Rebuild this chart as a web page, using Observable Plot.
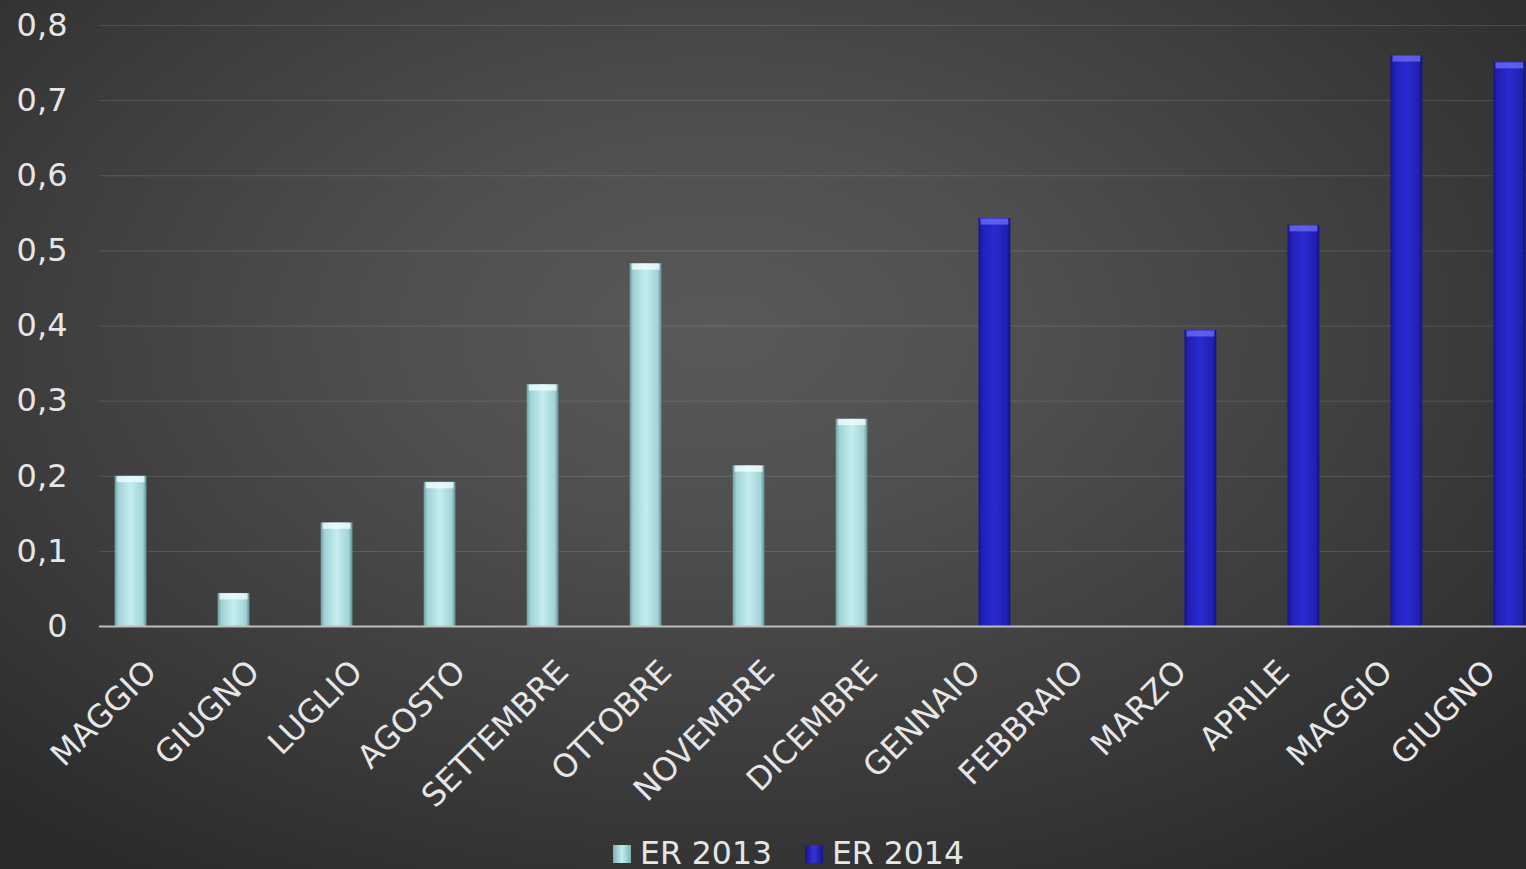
<!DOCTYPE html>
<html>
<head>
<meta charset="utf-8">
<script src="https://cdn.jsdelivr.net/npm/d3@7"></script>
<script src="https://cdn.jsdelivr.net/npm/@observablehq/plot@0.6"></script>
<style>
  html, body { margin: 0; padding: 0; width: 1526px; height: 869px; overflow: hidden; }
  body {
    background: radial-gradient(ellipse 70% 75% at 47% 38%, #595959 0%, #4f4f4f 30%, #3d3d3d 65%, #2a2a2a 100%);
    font-family: "DejaVu Sans", Verdana, sans-serif;
    position: relative;
  }
  #chart { position: absolute; left: 0; top: 0; width: 1526px; height: 830px; overflow: hidden; }
  #chart svg { max-width: none !important; }
  #legend { position: absolute; left: 613px; top: 838px; display: flex; align-items: center;
            font-size: 31.5px; line-height: 31px; color: #e6e6e6; white-space: nowrap; }
  .sw { width: 18px; height: 18px; display: inline-block; margin-right: 9px; }
  .item { display: flex; align-items: center; margin-right: 33px; }
</style>
</head>
<body>
<div id="chart"></div>
<div id="legend"></div>
<script>
const months = ["MAGGIO","GIUGNO","LUGLIO","AGOSTO","SETTEMBRE","OTTOBRE","NOVEMBRE","DICEMBRE","GENNAIO","FEBBRAIO","MARZO","APRILE","MAGGIO","GIUGNO"];
const series = ["ER 2013", "ER 2014"];
const er2013 = [0.200, 0.044, 0.138, 0.192, 0.322, 0.483, 0.214, 0.276, null, null, null, null, null, null];
const er2014 = [null, null, null, null, null, null, null, null, 0.543, 0, 0.394, 0.534, 0.760, 0.751];
const yTicks = [0, 0.1, 0.2, 0.3, 0.4, 0.5, 0.6, 0.7, 0.8];

const rows2013 = months.map((m, i) => ({i, series: series[0], value: er2013[i]})).filter(d => d.value != null);
const rows2014 = months.map((m, i) => ({i, series: series[1], value: er2014[i]})).filter(d => d.value != null);

const fmt = v => v === 0 ? "0" : String(+v.toFixed(1)).replace(".", ",");

const chart = Plot.plot({
  width: 1544,
  height: 830,
  marginLeft: 95,
  marginRight: 0,
  marginTop: 25,
  marginBottom: 204,
  style: {background: "transparent", color: "#e6e6e6", fontFamily: "'DejaVu Sans', Verdana, sans-serif", fontSize: "30px", overflow: "visible", maxWidth: "none"},
  fx: {domain: d3.range(months.length), padding: 0, label: null},
  x: {domain: series, paddingInner: 0.2, paddingOuter: 0.394, axis: null, round: false},
  y: {domain: [0, 0.8], label: null},
  marks: [
    Plot.gridY(yTicks, {stroke: "#ffffff", strokeOpacity: 0.13, strokeWidth: 1}),
    Plot.barY(rows2013, {fx: "i", x: "series", y: "value", fill: "url(#g2013)"}),
    Plot.barY(rows2014, {fx: "i", x: "series", y: "value", fill: "url(#g2014)"}),
    Plot.tickY(rows2013.filter(d => d.value > 0), {fx: "i", x: "series", y: "value", stroke: "#f2ffff", strokeWidth: 6, dy: 3, strokeOpacity: 0.75, insetLeft: 2, insetRight: 2}),
    Plot.tickY(rows2014.filter(d => d.value > 0), {fx: "i", x: "series", y: "value", stroke: "#6a6af6", strokeWidth: 6, dy: 3, strokeOpacity: 0.8, insetLeft: 2, insetRight: 2}),
    Plot.ruleY([0], {stroke: "#bdbdbd", strokeWidth: 2}),
    Plot.axisY(yTicks, {tickSize: 0, tickPadding: 32, tickFormat: fmt, label: null, fontSize: 32, color: "#e6e6e6"}),
    Plot.axisFx({anchor: "bottom", tickRotate: -45, tickSize: 0, tickPadding: 40, tickFormat: i => months[i], label: null, fontSize: 32, color: "#e6e6e6"})
  ]
});

const svg = d3.select(chart.tagName.toLowerCase() === "svg" ? chart : chart.querySelector("svg"));
const defs = svg.insert("defs", ":first-child");
function grad(id, stops) {
  const g = defs.append("linearGradient").attr("id", id).attr("x1", "0").attr("x2", "1").attr("y1", "0").attr("y2", "0");
  stops.forEach(([o, c]) => g.append("stop").attr("offset", o).attr("stop-color", c));
}
grad("g2013", [["0%", "#6f9ea2"], ["12%", "#9fd2d6"], ["50%", "#c4eef0"], ["88%", "#a2d3d6"], ["100%", "#5f8c90"]]);
grad("g2014", [["0%", "#13138c"], ["12%", "#2020b6"], ["50%", "#2a2ad0"], ["88%", "#2020b2"], ["100%", "#111184"]]);

document.getElementById("chart").appendChild(chart);

const legend = document.getElementById("legend");
const swatch = ["linear-gradient(90deg,#7fb0b4,#c4eef0,#7fb0b4)", "linear-gradient(90deg,#14148a,#3434d8,#14148a)"];
series.forEach((s, k) => {
  const it = document.createElement("span");
  it.className = "item";
  const sw = document.createElement("span");
  sw.className = "sw";
  sw.style.background = swatch[k];
  it.appendChild(sw);
  it.appendChild(document.createTextNode(s));
  legend.appendChild(it);
});
</script>
</body>
</html>
